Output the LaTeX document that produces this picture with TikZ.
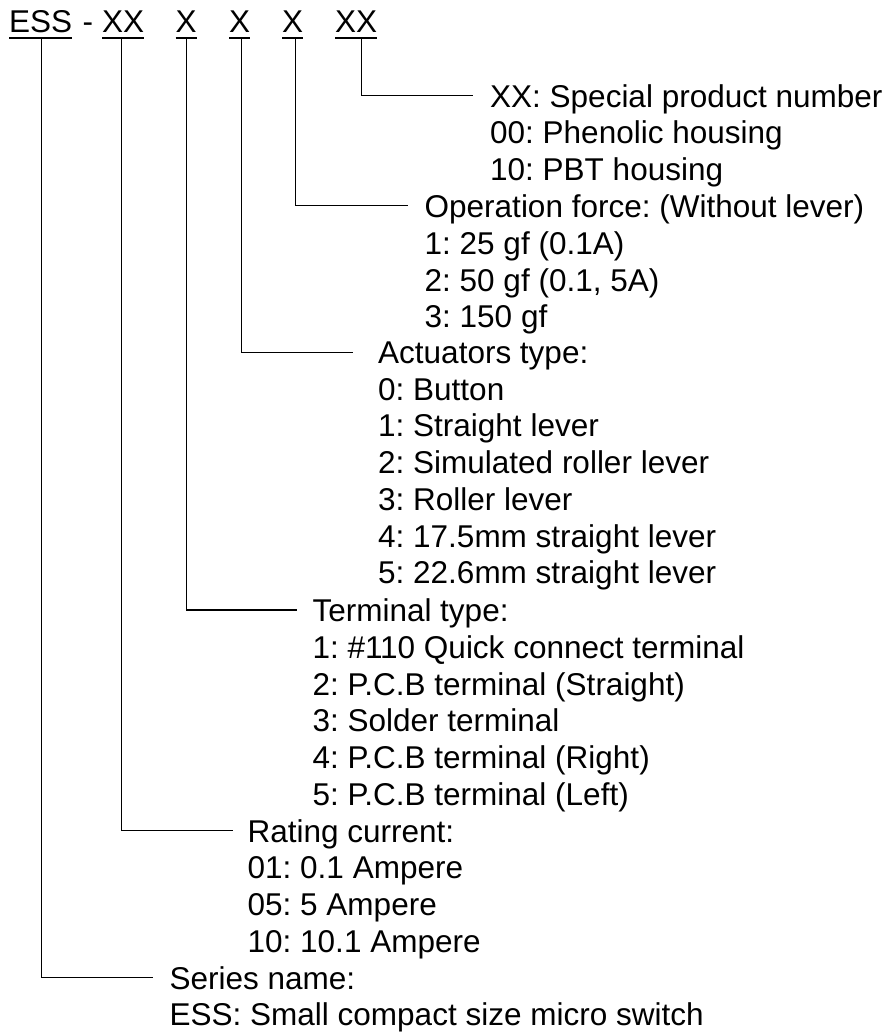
\documentclass[tikz,border=0pt]{standalone}
\usepackage{fontspec}
\setmainfont{Liberation Sans}
\frenchspacing
\begin{document}
\begin{tikzpicture}[x=1pt,y=-1pt,
  txt/.style={font=\fontsize{31.5}{36.75}\selectfont\frenchspacing,inner sep=0pt},
  code/.style={txt,anchor=base west},
  desc/.style={txt,anchor=north west,align=left,inner ysep=0pt,inner xsep=#1},
  uline/.style={line width=2pt},
  conn/.style={line width=1.3pt}]
\useasboundingbox (0,0) rectangle (890,1032);
% code letters
\node[code] (ess)  at (9,33)     {ESS};
\node[code] (dash) at (82.5,33)  {-};
\node[code] (xxa)  at (102,33)   {XX};
\node[code] (xa)   at (175.5,33) {X};
\node[code] (xb)   at (229,33)   {X};
\node[code] (xc)   at (282,33)   {X};
\node[code] (xxb)  at (335,33)   {XX};
\foreach \n in {ess,xxa,xa,xb,xc,xxb}
  \draw[uline] ([yshift=-5pt]\n.base west) -- ([yshift=-5pt]\n.base east);
% descriptions
\node[desc=17pt]   (dspec) at (473,84.2)   {XX: Special product number\\00: Phenolic housing\\10: PBT housing};
\node[desc=16.5pt] (dforce) at (408,194.5) {Operation force: (Without lever)\\1: 25 gf (0.1A)\\2: 50 gf (0.1, 5A)\\3: 150 gf};
\node[desc=25pt]   (dact) at (353,341.5)   {Actuators type:\\0: Button\\1: Straight lever\\2: Simulated roller lever\\3: Roller lever\\4: 17.5mm straight lever\\5: 22.6mm straight lever};
\node[desc=15.3pt] (dterm) at (297,598.7)  {Terminal type:\\1: \#110 Quick connect terminal\\2: P.C.B terminal (Straight)\\3: Solder terminal\\4: P.C.B terminal (Right)\\5: P.C.B terminal (Left)};
\node[desc=14.5pt] (drate) at (233,819.2)  {Rating current:\\01: 0.1 Ampere\\05: 5 Ampere\\10: 10.1 Ampere};
\node[desc=16.5pt] (dser) at (153,966.2)   {Series name:\\ESS: Small compact size micro switch};
% connectors
\draw[conn] ([xshift=5.5pt,yshift=-5pt]xxb.base) |- ([yshift=-11.3pt]dspec.north west);
\draw[conn] ([xshift=3pt,yshift=-5pt]xc.base) |- ([yshift=-11.3pt]dforce.north west);
\draw[conn] ([xshift=1.5pt,yshift=-5pt]xb.base) |- ([yshift=-11.3pt]dact.north west);
\draw[conn] ([yshift=-5pt]xa.base) |- ([yshift=-11.3pt]dterm.north west);
\draw[conn] ([xshift=-1.5pt,yshift=-5pt]xxa.base) |- ([yshift=-11.3pt]drate.north west);
\draw[conn] ([xshift=0.5pt,yshift=-5pt]ess.base) |- ([yshift=-11.3pt]dser.north west);
\end{tikzpicture}
\end{document}
